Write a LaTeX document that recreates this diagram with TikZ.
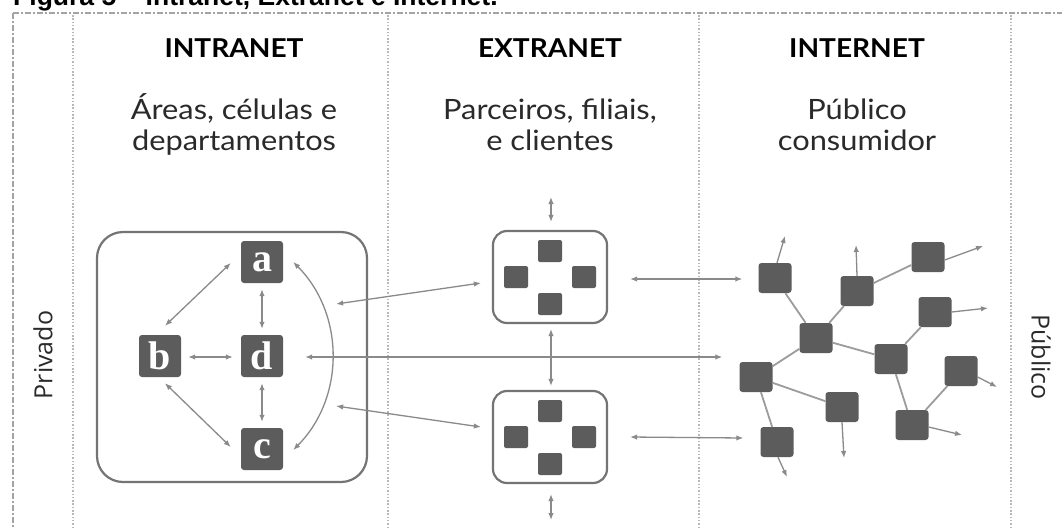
\documentclass[tikz,border=0pt]{standalone}
\usepackage{fontspec}
\setmainfont{Lato}
\newfontfamily\hdrfont[FakeStretch=1.08]{Lato}
\newfontfamily\subfont[FakeStretch=1.1]{Lato}
\newfontfamily\titlefont{Liberation Sans}
\newfontfamily\sidefont{Open Sans}
\newfontfamily\letterfont{Liberation Serif}
\usetikzlibrary{arrows.meta,calc}
\definecolor{sqgray}{HTML}{5C5C5C}
\definecolor{framegray}{HTML}{747474}
\definecolor{arrgray}{HTML}{8A8A8A}
\definecolor{linegray}{HTML}{9C9C9C}
\definecolor{dotgray}{HTML}{B8B8B8}
\definecolor{bordergray}{HTML}{A4A4A4}
\definecolor{txtgray}{HTML}{2A2A2A}
\begin{document}
\begin{tikzpicture}[x=1pt,y=-1pt,
  frame/.style={draw=framegray,line width=2.2pt,fill=white,inner sep=0pt},
  sq/.style={fill=sqgray,rounded corners=3pt,inner sep=0pt,minimum width=42pt,minimum height=42pt,text=white,font=\letterfont\bfseries\fontsize{40}{40}\selectfont},
  sqs/.style={fill=sqgray,rounded corners=2pt,inner sep=0pt,minimum width=24pt,minimum height=22pt},
  sqi/.style={fill=sqgray,rounded corners=3pt,inner sep=0pt,minimum width=33pt,minimum height=30pt},
  arr/.style={draw=arrgray,line width=1.3pt,{Latex[length=7pt,width=5.5pt]}-{Latex[length=7pt,width=5.5pt]}},
  oarr/.style={draw=arrgray,line width=1.3pt,-{Latex[length=7pt,width=5.5pt]}},
  link/.style={draw=linegray,line width=1.8pt},
  hdr/.style={anchor=base,text=black,font=\hdrfont\bfseries\fontsize{26}{30}\selectfont},
  sub/.style={anchor=base,text=txtgray,font=\subfont\fontsize{28}{32}\selectfont},
  side/.style={text=txtgray,font=\sidefont\fontsize{25}{30}\selectfont},
  dotline/.style={draw=dotgray,line width=1.2pt,dash pattern=on 1.5pt off 1.8pt},
  border/.style={draw=bordergray,line width=2.4pt,dash pattern=on 6pt off 2pt on 2pt off 2pt}
]
\useasboundingbox (0,0) rectangle (1062,528);
\fill[white] (0,0) rectangle (1062,528);

% title (cut off at top)
\node[anchor=base west,inner sep=0pt,font=\titlefont\bfseries\fontsize{26.5}{30}\selectfont] (title) at (13,5.5) {Figura 5 – Intranet, Extranet e Internet.};

% borders and column separators
\draw[border] (13,13) -- (1062,13);
\draw[border] (13,13) -- (13,528);
\foreach \x in {73,388,699,1011} \draw[dotline] (\x,15) -- (\x,528);

% headers
\node[hdr] (h1) at (234,57) {INTRANET};
\node[hdr] (h2) at (550,57) {EXTRANET};
\node[hdr] (h3) at (857,57) {INTERNET};
\node[sub] (s1a) at (234,119) {Áreas, células e};
\node[sub] (s1b) at (234,150) {departamentos};
\node[sub] (s2a) at (550,119) {Parceiros, filiais,};
\node[sub] (s2b) at (550,150) {e clientes};
\node[sub] (s3a) at (857,119) {Público};
\node[sub] (s3b) at (857,150) {consumidor};

% side labels
\node[side,rotate=90] (priv) at (43,355) {Privado};
\node[side,rotate=-90] (pub) at (1041,357) {Público};

% intranet
\node[frame,rounded corners=26pt,minimum width=270pt,minimum height=250pt] (intra) at (232,357) {};
\node[sq] (a) at (262,262) {a};
\node[sq] (b) at (160,356) {b};
\node[sq] (d) at (262,356) {d};
\node[sq] (c) at (262,449) {c};
\draw[arr] ($(b.north)+(5,-9)$) -- ($(a.west)+(-10,1)$);
\draw[arr] ($(b.east)+(7,1)$) -- ($(d.west)+(-8,1)$);
\draw[arr] ($(a.south)+(0,6)$) -- ($(d.north)+(0,-6)$);
\draw[arr] ($(d.south)+(0,6)$) -- ($(c.north)+(0,-6)$);
\draw[arr] ($(b.south)+(5,6)$) -- ($(c.west)+(-10,-2)$);
\draw[arr] ($(a.east)+(10,0)$) .. controls (345,314) and (345,398) .. ($(c.east)+(10,1)$);

% extranet
\node[frame,rounded corners=14pt,minimum width=114pt,minimum height=92pt] (ex1) at (550,277) {};
\node[frame,rounded corners=14pt,minimum width=114pt,minimum height=92pt] (ex2) at (550,437) {};
\foreach \e in {ex1,ex2} {
  \node[sqs] (\e t) at ($(\e)+(0,-26)$) {};
  \node[sqs] (\e b) at ($(\e)+(0,27)$) {};
  \node[sqs] (\e l) at ($(\e)+(-34,0)$) {};
  \node[sqs] (\e r) at ($(\e)+(34,0)$) {};
}
\coordinate (extop) at (551,197);
\coordinate (exbot) at (551,520);
\draw[arr] (extop) -- ($(ex1.north)+(1,-8)$);
\draw[arr] ($(ex1.south)+(1,5)$) -- ($(ex2.north)+(1,-4)$);
\draw[arr] ($(ex2.south)+(1,10)$) -- (exbot);

% internet nodes
\node[sqi] (n1) at (775,278) {};
\node[sqi] (n2) at (857,291) {};
\node[sqi] (n3) at (928,257) {};
\node[sqi] (n4) at (816,338) {};
\node[sqi] (n5) at (935,312) {};
\node[sqi] (n6) at (891,359) {};
\node[sqi] (n7) at (756,377) {};
\node[sqi] (n8) at (842,407) {};
\node[sqi] (n9) at (961,371) {};
\node[sqi] (n10) at (777,442) {};
\node[sqi] (n11) at (912,425) {};
\draw[link] (n1) -- (n4);
\draw[link] (n4) -- (n2);
\draw[link] (n2) -- (n3);
\draw[link] (n4) -- (n6);
\draw[link] (n4) -- (n7);
\draw[link] (n6) -- (n5);
\draw[link] (n6) -- (n11);
\draw[link] (n9) -- (n11);
\draw[link] (n7) -- (n8);
\draw[link] (n7) -- (n10);

% outgoing internet arrows
\coordinate (o1) at (785,236);
\coordinate (o2) at (856,245);
\coordinate (o3) at (983,246);
\coordinate (o5) at (988,308);
\coordinate (o9) at (997,387);
\coordinate (o11) at (962,435);
\coordinate (o8) at (844,458);
\coordinate (o10) at (787,477);
\draw[oarr] ($(n1.north)+(2,0)$) -- (o1);
\draw[oarr] (n2.north) -- (o2);
\draw[oarr] ($(n3.east)+(0,3)$) -- (o3);
\draw[oarr] (n5.east) -- (o5);
\draw[oarr] ($(n9.east)+(0,6)$) -- (o9);
\draw[oarr] ($(n11.east)+(0,2)$) -- (o11);
\draw[oarr] (n8.south) -- (o8);
\draw[oarr] ($(n10.south)+(1,0)$) -- (o10);

% cross-zone connectors
\draw[arr] ($(intra.east)+(-32,-53)$) -- ($(ex1.west)+(-11,6)$);
\draw[arr] ($(intra.east)+(-32,49)$) -- ($(ex2.west)+(-11,-10)$);
\draw[arr] ($(d.east)+(22,1)$) -- ($(n7.west)+(-17,-20)$);
\draw[arr] ($(ex1.east)+(22,2)$) -- ($(n1.west)+(-16,1)$);
\draw[arr] ($(ex2.east)+(22,0)$) -- ($(n10.west)+(-17,-4)$);
\end{tikzpicture}
\end{document}
